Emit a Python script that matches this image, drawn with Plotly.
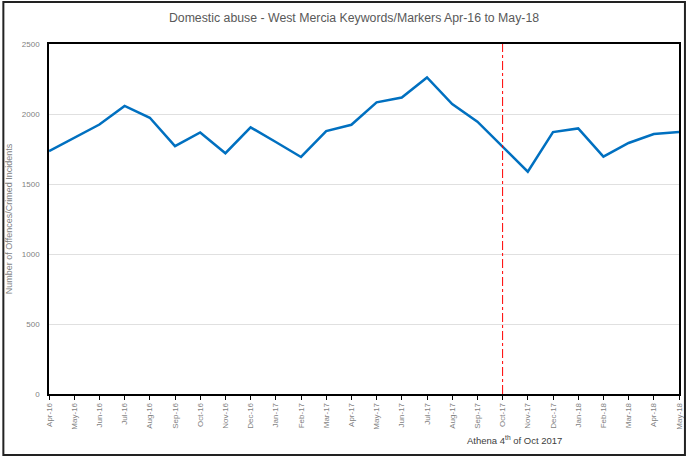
import plotly.graph_objects as go

months = ["Apr-16","May-16","Jun-16","Jul-16","Aug-16","Sep-16","Oct-16","Nov-16","Dec-16",
          "Jan-17","Feb-17","Mar-17","Apr-17","May-17","Jun-17","Jul-17","Aug-17","Sep-17",
          "Oct-17","Nov-17","Dec-17","Jan-18","Feb-18","Mar-18","Apr-18","May-18"]
offences = [1735, 1830, 1925, 2058, 1973, 1770, 1868, 1720, 1905,
            1800, 1693, 1878, 1923, 2083, 2118, 2261, 2071, 1945,
            1766, 1588, 1871, 1897, 1695, 1793, 1857, 1871]
y_ticks = [0, 500, 1000, 1500, 2000, 2500]
marker_month = "Oct-17"

idx = list(range(len(months)))
font_main = "Liberation Sans, Arial, sans-serif"

fig = go.Figure()
fig.add_trace(go.Scatter(x=idx, y=offences, mode="lines",
                         line=dict(color="#0070C0", width=2.5), showlegend=False,
                         hoverinfo="skip"))

mi = months.index(marker_month)
fig.add_shape(type="line", xref="x", yref="y", x0=mi, x1=mi, y0=0, y1=2500,
              line=dict(color="#FF0000", width=1, dash="dashdot"))

# outer border
fig.add_shape(type="rect", xref="paper", yref="paper",
              x0=-46/635, x1=1+6/635, y0=-61/350, y1=1+42/350,
              line=dict(color="#222222", width=2))

fig.update_layout(
    width=694, height=457,
    margin=dict(l=49, r=10, t=44, b=63),
    paper_bgcolor="white", plot_bgcolor="white",
    title=dict(text="Domestic abuse - West Mercia Keywords/Markers Apr-16 to May-18",
               x=354/694, xanchor="center", y=1 - 18/457, yanchor="middle",
               font=dict(family=font_main, size=12.3, color="#595959")),
    xaxis=dict(range=[0, len(months) - 1], tickmode="array", tickvals=idx, ticktext=months,
               tickangle=-90, tickfont=dict(family=font_main, size=8, color="#7f7f7f"),
               showgrid=False, zeroline=False, showline=True, linecolor="black", linewidth=1.5,
               mirror=True, ticks="outside", ticklen=4, tickcolor="black"),
    yaxis=dict(range=[0, 2500], tickmode="array", tickvals=y_ticks,
               tickfont=dict(family=font_main, size=8, color="#7f7f7f"),
               showgrid=True, gridcolor="#e0e0e0", gridwidth=1, zeroline=False,
               showline=True, linecolor="black", linewidth=1.5, mirror=True,
               ticks="", ticklabelstandoff=6, automargin=False,
               title=dict(text="Number of Offences/Crimed Incidents",
                          font=dict(family=font_main, size=9, color="#7f7f7f"), standoff=8)),
    annotations=[dict(text="Athena 4<sup>th</sup> of Oct 2017", xref="paper", yref="paper",
                      x=(518 - 49) / 635, y=-(440 - 394) / 350, xanchor="center", yanchor="middle",
                      showarrow=False, font=dict(family=font_main, size=9.5, color="#404040"))],
)

fig.write_html("out.html", config={"displayModeBar": False},
               post_script="document.body.style.margin='0';document.body.style.padding='0';")
